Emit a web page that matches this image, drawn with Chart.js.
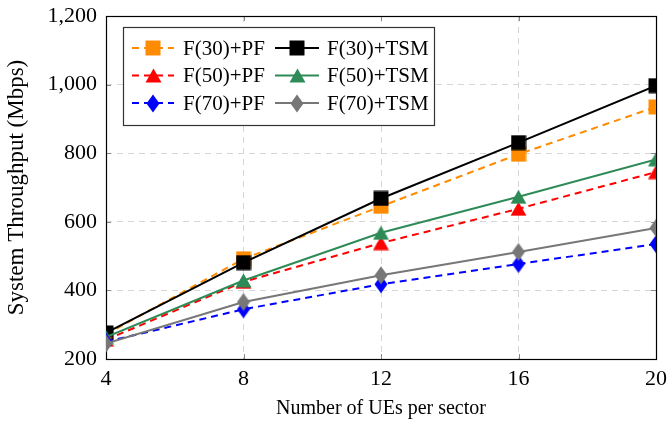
<!DOCTYPE html>
<html><head><meta charset="utf-8">
<script src="https://cdn.jsdelivr.net/npm/chart.js@4/dist/chart.umd.min.js"></script>
<style>html,body{margin:0;padding:0;background:#fff}#wrap{width:668px;height:423px}</style>
</head><body><div id="wrap"><canvas id="c" width="668" height="423"></canvas></div>
<script>
// ---- data ----
const xValues = [4, 8, 12, 16, 20];
const yTicks = [200, 400, 600, 800, 1000, 1200];
const seriesNames = ['F(30)+PF', 'F(30)+TSM', 'F(50)+PF', 'F(50)+TSM', 'F(70)+PF', 'F(70)+TSM'];
const f30pf  = [272, 492, 645, 797, 935];
const f30tsm = [276, 481, 668, 831, 997];
const f50pf  = [256, 425, 538, 638, 745];
const f50tsm = [264, 429, 568, 673, 782];
const f70pf  = [250, 345, 418, 477, 535];
const f70tsm = [245, 366, 444, 512, 582];
const xTitle = 'Number of UEs per sector';
const yTitle = 'System Throughput (Mbps)';

const FONT = 'Liberation Serif';

function marker(shape, color) {
  const c = document.createElement('canvas');
  let w, h;
  if (shape === 'square') { w = 16; h = 16; }
  else if (shape === 'tri') { w = 17; h = 15; }
  else { w = 14; h = 19; }
  c.width = w; c.height = h;
  const g = c.getContext('2d');
  g.fillStyle = color;
  g.beginPath();
  if (shape === 'square') { g.rect(0.5, 0.5, w - 1, h - 1); }
  else if (shape === 'tri') { g.moveTo(w / 2, 0.5); g.lineTo(w - 0.5, h - 0.5); g.lineTo(0.5, h - 0.5); g.closePath(); }
  else { g.moveTo(w / 2, 0.5); g.lineTo(w - 0.5, h / 2); g.lineTo(w / 2, h - 0.5); g.lineTo(0.5, h / 2); g.closePath(); }
  g.fill();
  return c;
}

const styles = [
  { color: '#ff8c00', dash: [7, 5], shape: 'square', order: 6 },
  { color: '#000000', dash: [], shape: 'square', order: 5 },
  { color: '#ff0000', dash: [7, 5], shape: 'tri', order: 4 },
  { color: '#2e8b57', dash: [], shape: 'tri', order: 3 },
  { color: '#0000ff', dash: [7, 5], shape: 'diamond', order: 2 },
  { color: '#777777', dash: [], shape: 'diamond', order: 1 }
];
const allSeries = [f30pf, f30tsm, f50pf, f50tsm, f70pf, f70tsm];

const datasets = allSeries.map((vals, i) => {
  const s = styles[i];
  const img = marker(s.shape, s.color);
  return {
    label: seriesNames[i],
    data: xValues.map((x, j) => ({ x: x, y: vals[j] })),
    borderColor: s.color,
    backgroundColor: s.color,
    borderWidth: 2,
    borderDash: s.dash,
    pointStyle: img,
    pointRadius: 8,
    order: s.order,
    tension: 0,
    _img: img
  };
});

const framePlugin = {
  id: 'frame',
  beforeDatasetsDraw(chart) {
    const { ctx, chartArea: a } = chart;
    const xs = chart.scales.x, ys = chart.scales.y;
    ctx.save();
    ctx.strokeStyle = '#888';
    ctx.lineWidth = 1;
    ctx.beginPath();
    xValues.forEach(v => {
      const px = Math.round(xs.getPixelForValue(v)) + 0.5;
      ctx.moveTo(px, a.bottom); ctx.lineTo(px, a.bottom - 5);
      ctx.moveTo(px, a.top); ctx.lineTo(px, a.top + 5);
    });
    yTicks.forEach(v => {
      const py = Math.round(ys.getPixelForValue(v)) + 0.5;
      ctx.moveTo(a.left, py); ctx.lineTo(a.left + 5, py);
      ctx.moveTo(a.right, py); ctx.lineTo(a.right - 5, py);
    });
    ctx.stroke();
    ctx.strokeStyle = '#000';
    ctx.lineWidth = 1.2;
    ctx.strokeRect(Math.round(a.left) + 0.5, Math.round(a.top) + 0.5, Math.round(a.right - a.left), Math.round(a.bottom - a.top));
    ctx.restore();
  },
  afterDatasetsDraw(chart) {
    const { ctx } = chart;
    const box = { x: 123.5, y: 27.5, w: 311, h: 98 };
    ctx.save();
    ctx.fillStyle = '#fff';
    ctx.fillRect(box.x, box.y, box.w, box.h);
    ctx.strokeStyle = '#333';
    ctx.lineWidth = 1.2;
    ctx.strokeRect(box.x, box.y, box.w, box.h);
    const rows = [48, 75.5, 103];
    const cols = [{ l0: 132, l1: 174, m: 153, t: 183 }, { l0: 275, l1: 319, m: 297, t: 327 }];
    ctx.font = '21px "' + FONT + '"';
    ctx.textBaseline = 'middle';
    ctx.textAlign = 'left';
    chart.data.datasets.forEach((ds, i) => {
      const r = rows[Math.floor(i / 2)], c = cols[i % 2];
      ctx.strokeStyle = ds.borderColor;
      ctx.lineWidth = 2;
      ctx.setLineDash(ds.borderDash);
      ctx.beginPath(); ctx.moveTo(c.l0, r); ctx.lineTo(c.l1, r); ctx.stroke();
      ctx.setLineDash([]);
      const img = ds._img;
      ctx.drawImage(img, Math.round(c.m - img.width / 2), Math.round(r - img.height / 2));
      ctx.fillStyle = '#000';
      ctx.fillText(ds.label, c.t, r + 1);
    });
    ctx.restore();
  }
};

const tickFont = { family: FONT, size: 22 };
new Chart(document.getElementById('c'), {
  type: 'line',
  data: { datasets: datasets },
  plugins: [framePlugin],
  options: {
    responsive: false,
    animation: false,
    layout: { padding: { top: 16, right: 12, left: 0, bottom: 0 } },
    plugins: { legend: { display: false }, tooltip: { enabled: false } },
    scales: {
      x: {
        type: 'linear', min: 4, max: 20,
        afterBuildTicks: s => { s.ticks = xValues.map(v => ({ value: v })); },
        grid: { color: '#d6d6d6', lineWidth: 1, drawTicks: false },
        border: { display: false, dash: [6, 5] },
        ticks: { font: tickFont, color: '#000', padding: 7, maxRotation: 0 },
        title: { display: true, text: xTitle, font: { family: FONT, size: 20 }, color: '#000', padding: { top: 0, bottom: 2 } },
        afterFit: s => { s.height = 64; s.paddingLeft = 0; s.paddingRight = 0; }
      },
      y: {
        min: 200, max: 1200,
        afterBuildTicks: s => { s.ticks = yTicks.map(v => ({ value: v })); },
        grid: { color: '#d6d6d6', lineWidth: 1, drawTicks: false },
        border: { display: false, dash: [6, 5] },
        ticks: { font: tickFont, color: '#000', padding: 9, callback: v => v.toLocaleString('en-US') },
        title: { display: true, text: yTitle, font: { family: FONT, size: 23 }, color: '#000', padding: { top: 3, bottom: 0 } },
        afterFit: s => { s.width = 106; s.paddingTop = 0; s.paddingBottom = 0; }
      }
    }
  }
});
</script>
</body></html>
